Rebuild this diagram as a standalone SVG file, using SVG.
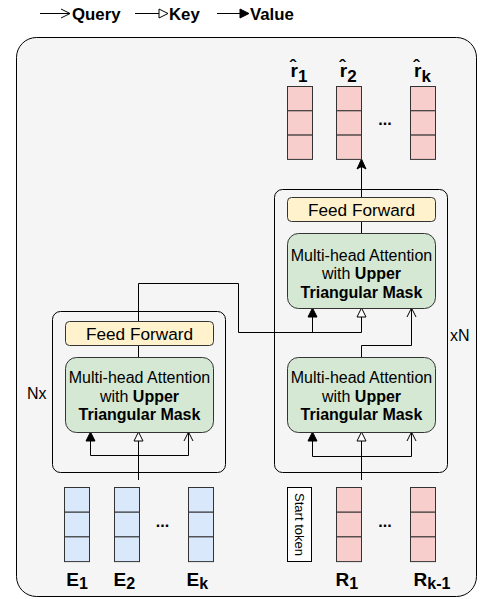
<svg xmlns="http://www.w3.org/2000/svg" width="480" height="599" viewBox="0 0 480 599">
<style>
text{font-family:"Liberation Sans",Arial,sans-serif;fill:#000}
.lg{font-size:16.8px;font-weight:bold}
.blk{fill:none;stroke:#000;stroke-width:1}
.ff{fill:#fff2cc;stroke:#333;stroke-width:1}
.att{fill:#d5e8d4;stroke:#333;stroke-width:1}
.pk{fill:#f8cecc;stroke:#333;stroke-width:1}
.bl{fill:#dae8fc;stroke:#333;stroke-width:1}
.ln{fill:none;stroke:#000;stroke-width:1}
.t16{font-size:16px}
.tff{font-size:17.2px}
.lab{font-size:19px;font-weight:bold}
.dots{font-size:16px;font-weight:bold}
</style>
<defs>
<marker id="mOpen" markerUnits="userSpaceOnUse" markerWidth="11" markerHeight="11" refX="9" refY="5" orient="auto" overflow="visible">
<path d="M0,0.5 L9,5 L0,9.5" fill="none" stroke="#000" stroke-width="1"/>
</marker>
<marker id="mHollow" markerUnits="userSpaceOnUse" markerWidth="11" markerHeight="11" refX="9" refY="5" orient="auto" overflow="visible">
<path d="M0,0.5 L9,5 L0,9.5 Z" fill="#fff" stroke="#000" stroke-width="1"/>
</marker>
<marker id="mFill" markerUnits="userSpaceOnUse" markerWidth="11" markerHeight="11" refX="9" refY="5" orient="auto" overflow="visible">
<path d="M0,0.5 L9,5 L0,9.5 Z" fill="#000" stroke="#000" stroke-width="1"/>
</marker>
<marker id="mClassic" markerUnits="userSpaceOnUse" markerWidth="12" markerHeight="11" refX="10" refY="5" orient="auto" overflow="visible">
<path d="M0,0.5 L10,5 L0,9.5 L2.5,5 Z" fill="#000" stroke="#000" stroke-width="1"/>
</marker>
</defs>

<g id="legend">
<line class="ln" x1="40" y1="13.5" x2="70" y2="13.5" marker-end="url(#mOpen)"/>
<text class="lg" x="72" y="19.5">Query</text>
<line class="ln" x1="135" y1="13.5" x2="168" y2="13.5" marker-end="url(#mHollow)"/>
<text class="lg" x="169" y="19.5">Key</text>
<line class="ln" x1="217" y1="13.5" x2="249" y2="13.5" marker-end="url(#mFill)"/>
<text class="lg" x="250" y="19.5">Value</text>
</g>

<g id="container">
<rect x="16.5" y="37.5" width="460" height="559" rx="20" fill="#f5f5f5" stroke="#000" stroke-width="1"/>
</g>

<g id="connectors">
<!-- encoder -->
<line class="ln" x1="138.5" y1="480" x2="138.5" y2="432" marker-end="url(#mHollow)"/>
<path class="ln" d="M90.5,432 L90.5,455.5 L188.5,455.5 L188.5,432"/>
<line class="ln" x1="90.5" y1="446" x2="90.5" y2="432" marker-end="url(#mFill)"/>
<line class="ln" x1="188.5" y1="446" x2="188.5" y2="432" marker-end="url(#mOpen)"/>
<path class="ln" d="M138.5,357 L138.5,283.5 L238.5,283.5 L238.5,332.5 L361.5,332.5 L361.5,308" marker-end="url(#mHollow)"/>
<line class="ln" x1="312.5" y1="332.5" x2="312.5" y2="308" marker-end="url(#mFill)"/>
<!-- decoder -->
<line class="ln" x1="361.5" y1="480" x2="361.5" y2="432" marker-end="url(#mHollow)"/>
<path class="ln" d="M312.5,432 L312.5,456.5 L411.5,456.5 L411.5,432"/>
<line class="ln" x1="312.5" y1="446" x2="312.5" y2="432" marker-end="url(#mFill)"/>
<line class="ln" x1="411.5" y1="446" x2="411.5" y2="432" marker-end="url(#mOpen)"/>
<path class="ln" d="M361.5,357 L361.5,345.5 L411.5,345.5 L411.5,308" marker-end="url(#mOpen)"/>
<line class="ln" x1="361.5" y1="233" x2="361.5" y2="159" marker-end="url(#mClassic)"/>
</g>

<g id="encoder-block">
<rect class="blk" x="52.5" y="311.5" width="173" height="161" rx="8"/>
<text class="t16" x="27" y="399">Nx</text>
</g>
<g id="decoder-block">
<rect class="blk" x="274.5" y="189.5" width="173" height="283" rx="8"/>
<text class="t16" x="450" y="341">xN</text>
</g>

<g id="enc-ff">
<rect class="ff" x="65.5" y="321.5" width="148" height="24" rx="4"/>
<text class="tff" x="139.5" y="339.8" text-anchor="middle">Feed Forward</text>
</g>
<g id="enc-att">
<rect class="att" x="65.5" y="357.5" width="148" height="75" rx="11"/>
<text class="t16" x="139.5" y="383" text-anchor="middle">Multi-head Attention</text>
<text class="t16" x="139.5" y="401.5" text-anchor="middle">with <tspan font-weight="bold">Upper</tspan></text>
<text class="t16" x="139.5" y="420" text-anchor="middle" font-weight="bold">Triangular Mask</text>
</g>

<g id="dec-ff">
<rect class="ff" x="287.5" y="197.5" width="148" height="24" rx="4"/>
<text class="tff" x="361.5" y="215.8" text-anchor="middle">Feed Forward</text>
</g>
<g id="dec-att-top">
<rect class="att" x="287.5" y="233.5" width="148" height="75" rx="11"/>
<text class="t16" x="361.5" y="260.5" text-anchor="middle">Multi-head Attention</text>
<text class="t16" x="361.5" y="279" text-anchor="middle">with <tspan font-weight="bold">Upper</tspan></text>
<text class="t16" x="361.5" y="297.5" text-anchor="middle" font-weight="bold">Triangular Mask</text>
</g>
<g id="dec-att-bottom">
<rect class="att" x="287.5" y="357.5" width="148" height="75" rx="11"/>
<text class="t16" x="361.5" y="383" text-anchor="middle">Multi-head Attention</text>
<text class="t16" x="361.5" y="401.5" text-anchor="middle">with <tspan font-weight="bold">Upper</tspan></text>
<text class="t16" x="361.5" y="420" text-anchor="middle" font-weight="bold">Triangular Mask</text>
</g>

<!-- outputs -->
<g id="out-r1">
<rect class="pk" x="287.5" y="86.5" width="25" height="24.3"/>
<rect class="pk" x="287.5" y="110.8" width="25" height="24.3"/>
<rect class="pk" x="287.5" y="135.1" width="25" height="24.3"/>
<text class="lab" x="290.5" y="76.7" font-size="20">r&#x302;<tspan font-size="17" dy="5">1</tspan></text>
</g>
<g id="out-r2">
<rect class="pk" x="336.5" y="86.5" width="25" height="24.3"/>
<rect class="pk" x="336.5" y="110.8" width="25" height="24.3"/>
<rect class="pk" x="336.5" y="135.1" width="25" height="24.3"/>
<text class="lab" x="339.8" y="76.7" font-size="20">r&#x302;<tspan font-size="17" dy="5">2</tspan></text>
</g>
<text class="dots" x="385" y="125" text-anchor="middle">...</text>
<g id="out-rk">
<rect class="pk" x="410.5" y="86.5" width="25" height="24.3"/>
<rect class="pk" x="410.5" y="110.8" width="25" height="24.3"/>
<rect class="pk" x="410.5" y="135.1" width="25" height="24.3"/>
<text class="lab" x="414" y="76.7" font-size="20">r&#x302;<tspan font-size="17" dy="5">k</tspan></text>
</g>

<!-- encoder inputs -->
<g id="in-e1">
<rect class="bl" x="64.5" y="487.5" width="25" height="24.7"/>
<rect class="bl" x="64.5" y="512.2" width="25" height="24.7"/>
<rect class="bl" x="64.5" y="536.9" width="25" height="24.7"/>
<text class="lab" x="66.3" y="586">E<tspan font-size="16" dy="3">1</tspan></text>
</g>
<g id="in-e2">
<rect class="bl" x="114.5" y="487.5" width="25" height="24.7"/>
<rect class="bl" x="114.5" y="512.2" width="25" height="24.7"/>
<rect class="bl" x="114.5" y="536.9" width="25" height="24.7"/>
<text class="lab" x="113.6" y="586">E<tspan font-size="16" dy="3">2</tspan></text>
</g>
<text class="dots" x="162.5" y="527" text-anchor="middle">...</text>
<g id="in-ek">
<rect class="bl" x="188.5" y="487.5" width="25" height="24.7"/>
<rect class="bl" x="188.5" y="512.2" width="25" height="24.7"/>
<rect class="bl" x="188.5" y="536.9" width="25" height="24.7"/>
<text class="lab" x="186.6" y="586">E<tspan font-size="16" dy="3">k</tspan></text>
</g>

<!-- decoder inputs -->
<g id="start-token">
<rect x="287.5" y="487.5" width="24" height="74" fill="#fff" stroke="#000" stroke-width="1"/>
<text font-size="13px" text-anchor="middle" dominant-baseline="central" transform="translate(299.5,524.5) rotate(90)">Start token</text>
</g>
<g id="in-r1">
<rect class="pk" x="336.5" y="487.5" width="25" height="24.7"/>
<rect class="pk" x="336.5" y="512.2" width="25" height="24.7"/>
<rect class="pk" x="336.5" y="536.9" width="25" height="24.7"/>
<text class="lab" x="335.6" y="586">R<tspan font-size="16" dy="3">1</tspan></text>
</g>
<text class="dots" x="385" y="527" text-anchor="middle">...</text>
<g id="in-rk1">
<rect class="pk" x="410.5" y="487.5" width="25" height="24.7"/>
<rect class="pk" x="410.5" y="512.2" width="25" height="24.7"/>
<rect class="pk" x="410.5" y="536.9" width="25" height="24.7"/>
<text class="lab" x="413.6" y="586">R<tspan font-size="16" dy="3">k-1</tspan></text>
</g>
</svg>
